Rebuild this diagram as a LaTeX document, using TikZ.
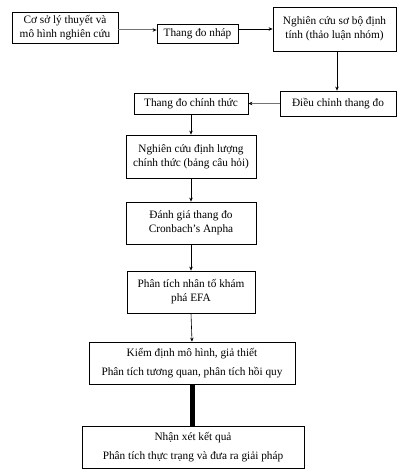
\documentclass[tikz,border=0pt]{standalone}
\usepackage{fontspec}
\setmainfont{Liberation Serif}
\usetikzlibrary{arrows.meta}
\begin{document}
\begin{tikzpicture}[x=1pt,y=-1pt,
  box/.style={draw=black, line width=0.8pt, align=center, inner sep=0pt,
    font=\fontsize{11.3}{14}\selectfont},
  arr/.style={draw=black, line width=0.6pt, -{Stealth[length=4pt,width=3.5pt]}},
  garr/.style={draw=black!55, line width=1pt, -{Stealth[length=4pt,width=3.5pt,color=black]}},
  thick line/.style={draw=black, line width=5pt}]
\useasboundingbox (0,0) rectangle (409,476);
\node[box, minimum width=106pt, minimum height=31pt] (b1) at (65,27.5) {Cơ sở lý thuyết và\\mô hình nghiên cứu};
\node[box, minimum width=81pt, minimum height=19pt] (b2) at (197.5,33.5) {Thang đo nháp};
\node[box, minimum width=123pt, minimum height=44pt] (b3) at (334.5,29) {Nghiên cứu sơ bộ định\\tính (thảo luận nhóm)};
\node[box, minimum width=116pt, minimum height=25pt] (b4) at (338,103.5) {Điều chỉnh thang đo};
\node[box, minimum width=114pt, minimum height=21pt] (b5) at (191,103.5) {Thang đo chính thức};
\node[box, minimum width=130pt, minimum height=43pt] (b6) at (191,156.5) {Nghiên cứu định lượng\\chính thức (bảng câu hỏi)};
\node[box, minimum width=130pt, minimum height=42pt] (b7) at (191,223) {Đánh giá thang đo\\Cronbach’s Anpha};
\node[box, minimum width=128pt, minimum height=42pt] (b8) at (191,292) {Phân tích nhân tố khám\\phá EFA};
\node[box, minimum width=206pt, minimum height=42pt] (b9) at (192,363) {Kiểm định mô hình, giả thiết\\[5pt]Phân tích tương quan, phân tích hồi quy};
\node[box, minimum width=222pt, minimum height=42pt] (b10) at (193,447) {Nhận xét kết quả\\[5pt]Phân tích thực trạng và đưa ra giải pháp};
\draw[garr] ([yshift=-2.5pt]b1.east) -- ([yshift=-2.5pt]b1.east -| b2.west);
\draw[arr] (b2.east |- b3.west) -- (b3.west);
\draw[arr] ([xshift=2.5pt]b3.south) -- ([xshift=2.5pt]b3.south |- b4.north);
\draw[garr] (b4.west) -- (b5.east);
\draw[arr] (b5.south) -- (b6.north);
\draw[arr] (b6.south) -- (b7.north);
\draw[arr] (b7.south) -- (b8.north);
\draw[arr] (b8.south) -- (b9.north);
\draw[thick line] (b9.south) -- (b10.north -| b9.south);
\end{tikzpicture}
\end{document}
